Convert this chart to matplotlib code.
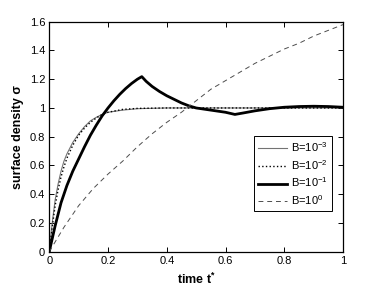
### Surface density vs time for several B values ###

import matplotlib
matplotlib.use("Agg")
import matplotlib.pyplot as plt
from matplotlib.ticker import FormatStrFormatter

plt.rcParams['font.family'] = ['Liberation Sans', 'DejaVu Sans']
plt.rcParams['mathtext.default'] = 'regular'

# B = 1e-3 (thin grey)
t_b3 = [0, 0.01, 0.02, 0.03, 0.04, 0.05, 0.06, 0.08, 0.1, 0.12, 0.14, 0.16,
        0.18, 0.2, 0.25, 0.3, 0.4, 0.6, 0.8, 1.0]
s_b3 = [0, 0.2, 0.36, 0.47, 0.56, 0.63, 0.68, 0.76, 0.82, 0.87, 0.91, 0.935,
        0.955, 0.97, 0.985, 0.995, 1.0, 1.0, 1.0, 1.0]

# B = 1e-2 (dotted)
t_b2 = [0, 0.01, 0.02, 0.03, 0.04, 0.05, 0.06, 0.08, 0.1, 0.12, 0.14, 0.16,
        0.18, 0.2, 0.25, 0.3, 0.4, 0.6, 0.8, 1.0]
s_b2 = [0, 0.17, 0.32, 0.43, 0.52, 0.59, 0.65, 0.74, 0.81, 0.86, 0.90, 0.93,
        0.955, 0.97, 0.99, 0.997, 1.0, 1.0, 1.0, 1.0]

# B = 1e-1 (thick black)
t_b1 = [0, 0.02, 0.04, 0.06, 0.08, 0.1, 0.12, 0.14, 0.16, 0.18, 0.2, 0.22,
        0.24, 0.26, 0.28, 0.30, 0.315, 0.33, 0.35, 0.375, 0.4, 0.425, 0.45,
        0.475, 0.5, 0.55, 0.6, 0.632, 0.66, 0.7, 0.75, 0.8, 0.85, 0.9, 0.95, 1.0]
s_b1 = [0, 0.18, 0.34, 0.46, 0.56, 0.645, 0.73, 0.81, 0.88, 0.945, 1.0, 1.05,
        1.095, 1.135, 1.17, 1.20, 1.218, 1.185, 1.15, 1.115, 1.085, 1.06, 1.035,
        1.015, 1.0, 0.985, 0.97, 0.955, 0.965, 0.98, 0.995, 1.005, 1.01, 1.012, 1.01, 1.005]

# B = 1e0 (dashed)
t_b0 = [0, 0.05, 0.1, 0.15, 0.2, 0.25, 0.3, 0.35, 0.4, 0.45, 0.5, 0.55, 0.6,
        0.65, 0.7, 0.75, 0.8, 0.85, 0.9, 0.95, 1.0]
s_b0 = [0, 0.17, 0.32, 0.44, 0.54, 0.63, 0.73, 0.82, 0.90, 0.97, 1.05, 1.13,
        1.19, 1.25, 1.31, 1.36, 1.41, 1.45, 1.50, 1.54, 1.58]

fig = plt.figure(figsize=(3.79, 2.86), dpi=100)
ax = fig.add_axes([0.130, 0.120, 0.775, 0.804])

ax.plot(t_b3, s_b3, color='0.45', lw=0.8, label='B=10$^{-3}$')
ax.plot(t_b2, s_b2, color='k', lw=1.0, ls=':', label='B=10$^{-2}$')
ax.plot(t_b1, s_b1, color='k', lw=2.0, label='B=10$^{-1}$')
ax.plot(t_b0, s_b0, color='0.3', lw=0.7, ls=(0, (5, 4)), label='B=10$^{0}$')

ax.set_xlim(0, 1)
ax.set_ylim(0, 1.6)
ax.set_xticks([0, 0.2, 0.4, 0.6, 0.8, 1])
ax.set_yticks([0, 0.2, 0.4, 0.6, 0.8, 1, 1.2, 1.4, 1.6])
ax.xaxis.set_major_formatter(FormatStrFormatter('%g'))
ax.yaxis.set_major_formatter(FormatStrFormatter('%g'))
ax.tick_params(direction='in', top=True, right=True, length=3.5, width=0.7,
               labelsize=8, pad=3)
for sp in ax.spines.values():
    sp.set_linewidth(0.9)

ax.set_xlabel('time t$^{*}$', fontsize=9, fontweight='bold', labelpad=4)
ax.set_ylabel('surface density \u03c3', fontsize=9, fontweight='bold', labelpad=4)

leg = ax.legend(loc='lower right', bbox_to_anchor=(0.963, 0.177), fontsize=8,
                frameon=True, fancybox=False, edgecolor='k', framealpha=1,
                handlelength=2.6, handletextpad=0.4, borderpad=0.35,
                labelspacing=0.35, borderaxespad=0)
leg.get_frame().set_linewidth(0.7)

plt.savefig('out.png', dpi=100)
